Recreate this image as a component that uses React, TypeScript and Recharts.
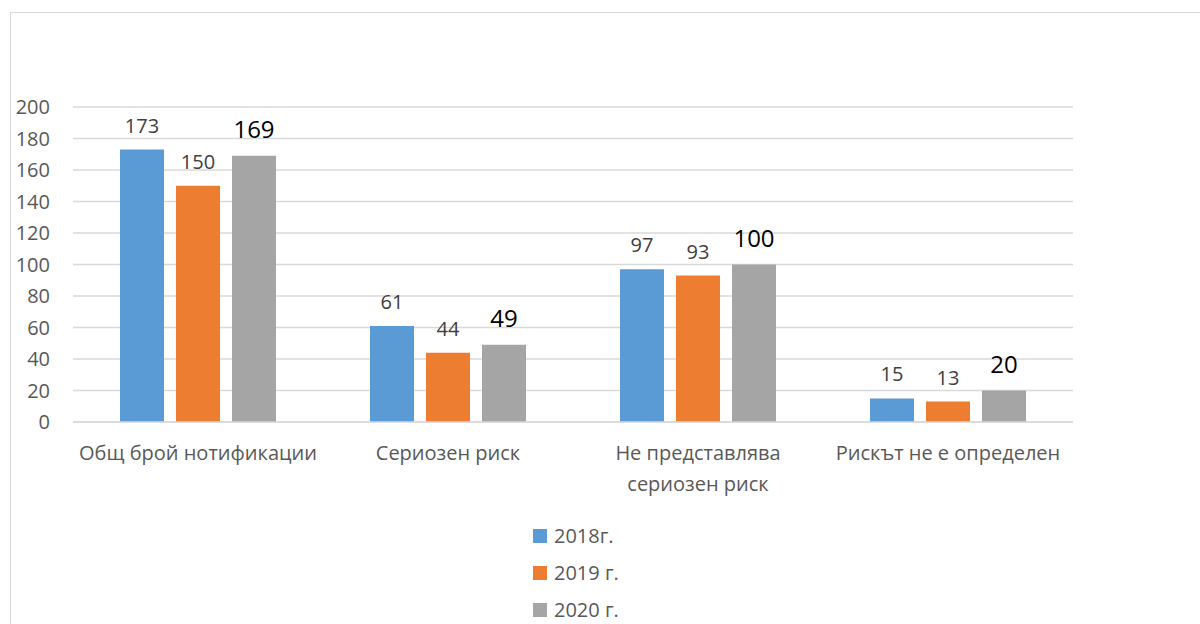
import React from 'react';
import { BarChart, Bar, XAxis, YAxis, CartesianGrid, LabelList } from 'recharts';

const categories = ['Общ брой нотификации', 'Сериозен риск', 'Не представлява\nсериозен риск', 'Рискът не е определен'];
const series2018 = [173, 61, 97, 15];
const series2019 = [150, 44, 93, 13];
const series2020 = [169, 49, 100, 20];
const seriesNames = ['2018г.', '2019 г.', '2020 г.'];
const seriesColors = ['#5B9BD5', '#ED7D31', '#A5A5A5'];
const yTicks = [0, 20, 40, 60, 80, 100, 120, 140, 160, 180, 200];

const data = categories.map((c, i) => ({
  name: c,
  s2018: series2018[i],
  s2019: series2019[i],
  s2020: series2020[i],
}));

const FONT = '"Open Sans", sans-serif';

const CategoryTick = (props: any) => {
  const { x, y, payload } = props;
  const lines = String(payload.value).split('\n');
  return (
    <g transform={`translate(${x},${y})`}>
      {lines.map((l: string, i: number) => (
        <text key={i} x={0} y={0} dy={30 + i * 31} textAnchor="middle" fill="#595959" fontSize={20} fontFamily={FONT}>
          {l}
        </text>
      ))}
    </g>
  );
};

export default function App() {
  const keys = ['s2018', 's2019', 's2020'];
  return (
    <div style={{ position: 'absolute', left: 0, top: 0, width: 1200, height: 624, overflow: 'hidden', background: '#fff', fontFamily: FONT }}>
      <div style={{ position: 'absolute', left: 10, top: 12, width: 1300, height: 800, border: '1.5px solid #d9d9d9' }} />
      <BarChart
        width={1200}
        height={624}
        data={data}
        margin={{ top: 107, right: 127, left: 0, bottom: 142 }}
        barGap={12}
        barSize={44}
      >
        <CartesianGrid vertical={false} stroke="#d9d9d9" strokeWidth={1.5} />
        <XAxis dataKey="name" axisLine={{ stroke: '#d9d9d9', strokeWidth: 1.5 }} tickLine={false} height={60} tick={<CategoryTick />} interval={0} />
        <YAxis
          width={73}
          domain={[0, 200]}
          ticks={yTicks}
          axisLine={false}
          tickLine={false}
          tickSize={0}
          tickMargin={23}
          interval={0}
          tick={{ fill: '#595959', fontSize: 20, fontFamily: FONT }}
        />
        {keys.map((k, i) => (
          <Bar key={k} dataKey={k} fill={seriesColors[i]} isAnimationActive={false}>
            <LabelList
              dataKey={k}
              position="top"
              offset={i === 2 ? 18 : 17}
              fill={i === 2 ? '#000' : '#404040'}
              fontSize={i === 2 ? 24 : 20}
              fontFamily={FONT}
            />
          </Bar>
        ))}
      </BarChart>
      <div style={{ position: 'absolute', left: 533, top: 517 }}>
        {seriesNames.map((n, i) => (
          <div key={n} style={{ display: 'flex', alignItems: 'center', height: 37 }}>
            <div style={{ width: 14, height: 14, background: seriesColors[i], marginRight: 7 }} />
            <span style={{ fontSize: 20, color: '#595959', fontFamily: FONT, lineHeight: '24px' }}>{n}</span>
          </div>
        ))}
      </div>
    </div>
  );
}
